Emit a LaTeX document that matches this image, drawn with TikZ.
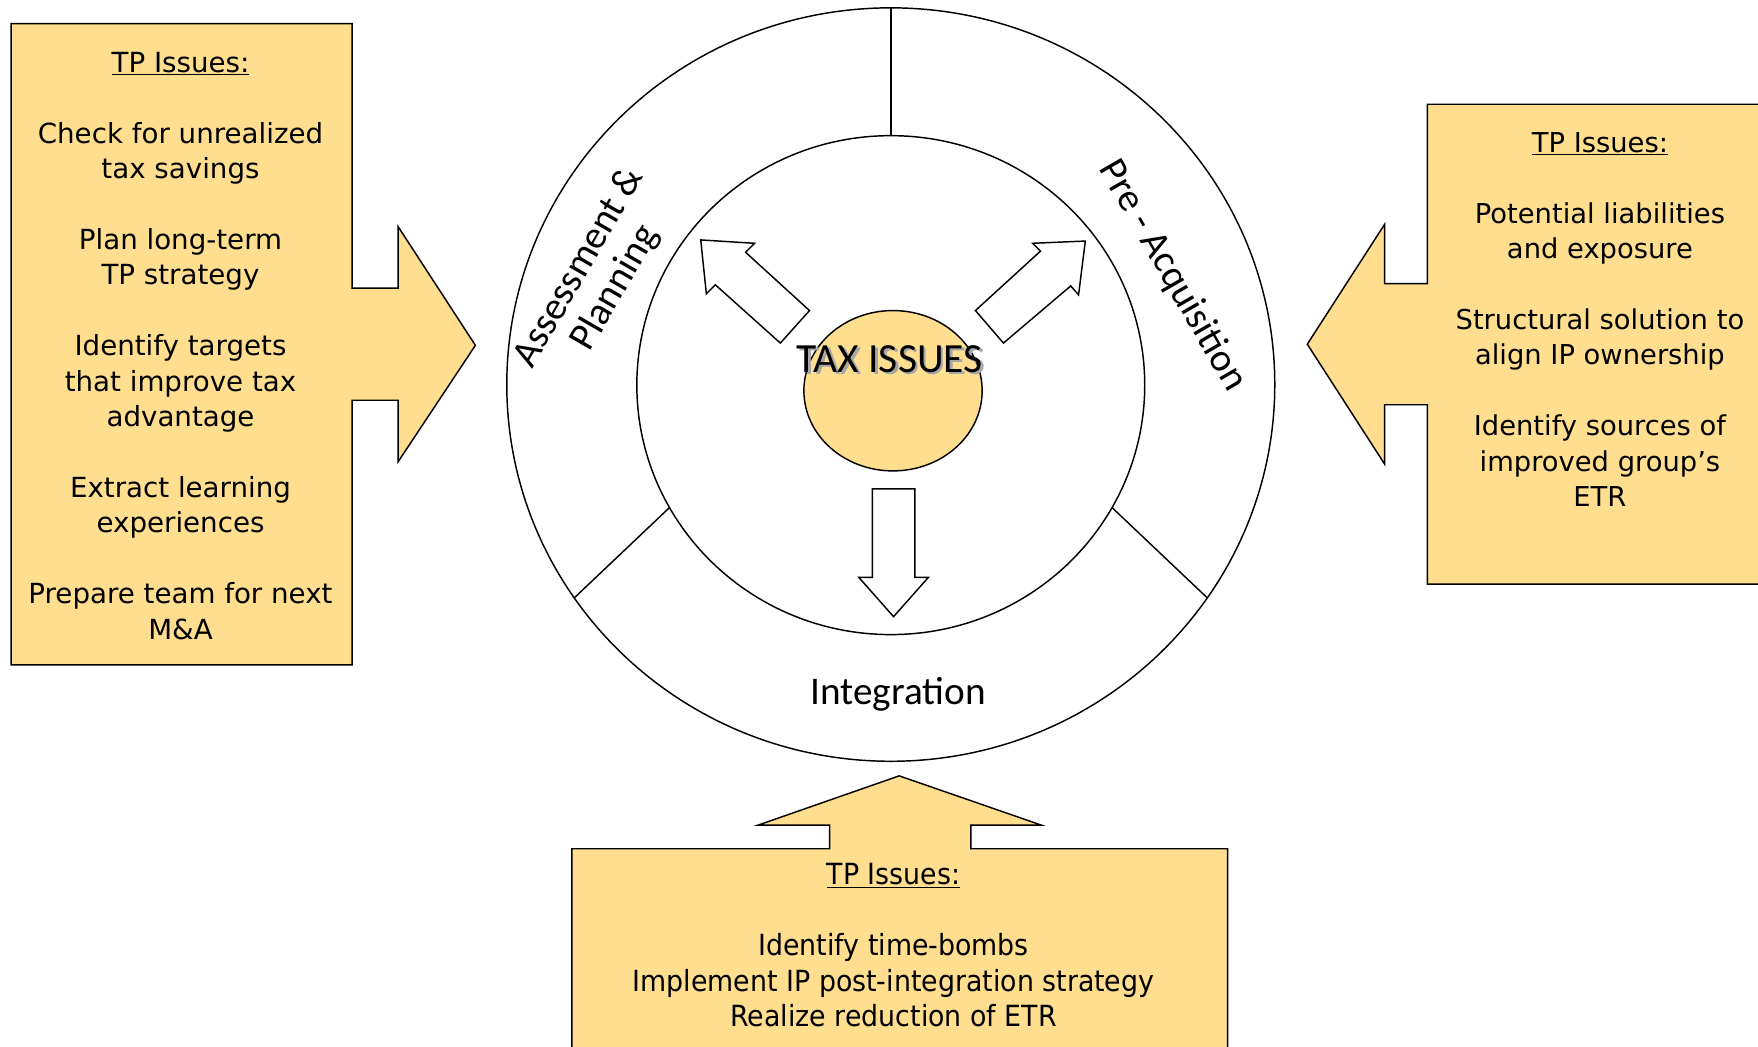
\documentclass[tikz,border=0pt]{standalone}
\usepackage{fontspec}
\usepackage{graphicx}
\usetikzlibrary{shapes.geometric}
\newfontfamily\boxfont{DejaVu Sans}
\newfontfamily\ringfont{Carlito}
\definecolor{tpyellow}{HTML}{FFDF8F}
\tikzset{
  yellowshape/.style={draw=black, fill=tpyellow, line width=1.3pt, line join=miter},
  hollowarrow/.style={draw=black, fill=white, line width=1.3pt, line join=miter},
  ringline/.style={draw=black, line width=1.3pt},
  boxtext/.style={inner sep=0pt, font=\boxfont\fontsize{24.7}{31.6}\selectfont},
  ringtext/.style={inner sep=0pt, font=\ringfont\fontsize{35}{37}\selectfont}
}
\begin{document}
\begin{tikzpicture}[x=1pt, y=-1pt]
\useasboundingbox (0,0) rectangle (1568,933);

% ---------- left box with right-pointing arrow ----------
\draw[yellowshape] (10,21) -- (314,21) -- (314,257) -- (355,257) -- (355,202)
  -- (424,308) -- (355,412) -- (355,357) -- (314,357) -- (314,593) -- (10,593) -- cycle;
\node[boxtext] (lefttext) at (161,311) {%
  \begin{tabular}{@{}c@{}}
  \underline{TP Issues:}\\ \\
  Check for unrealized\\ tax savings\\ \\
  Plan long-term\\ TP strategy\\ \\
  Identify targets\\ that improve tax\\ advantage\\ \\
  Extract learning\\ experiences\\ \\
  Prepare team for next\\ M\&A
  \end{tabular}};

% ---------- right box with left-pointing arrow ----------
\draw[yellowshape] (1580,93) -- (1273,93) -- (1273,253) -- (1235,253) -- (1235,200)
  -- (1166,307) -- (1235,414) -- (1235,361) -- (1273,361) -- (1273,521) -- (1580,521);
\node[boxtext, font=\boxfont\fontsize{24.4}{31.6}\selectfont] (righttext) at (1427,287.4) {%
  \begin{tabular}{@{}c@{}}
  \underline{TP Issues:}\\ \\
  Potential liabilities\\ and exposure\\ \\
  Structural solution to\\ align IP ownership\\ \\
  Identify sources of\\ improved group’s\\ ETR
  \end{tabular}};

% ---------- bottom box with up-pointing arrow ----------
\draw[yellowshape] (510,950) -- (510,757) -- (740,757) -- (740,736) -- (676,736)
  -- (802,692) -- (929,736) -- (866,736) -- (866,757) -- (1095,757) -- (1095,950);
\node[boxtext, font=\boxfont\fontsize{26}{31.7}\selectfont] (bottomtext) at (797,846.2) {%
  \scalebox{0.92}[1]{\begin{tabular}{@{}c@{}}
  \underline{TP Issues:}\\ \\
  Identify time-bombs\\
  Implement IP post-integration strategy\\
  Realize reduction of ETR
  \end{tabular}}};

% ---------- ring ----------
\node[ellipse, ringline, minimum width=685pt, minimum height=672pt, inner sep=0pt] (outer) at (794.5,343) {};
\node[ellipse, ringline, minimum width=453pt, minimum height=445pt, inner sep=0pt] (inner) at (794.5,343.5) {};
\draw[ringline] (outer.north) -- (inner.north);
\draw[ringline] (outer.-146) -- (inner.-151);
\draw[ringline] (outer.-34) -- (inner.-29);

% ---------- centre ----------
\node[ellipse, draw=black, fill=tpyellow, line width=1.3pt, minimum width=159pt, minimum height=143pt, inner sep=0pt] (core) at (796.5,348.5) {};
\node[inner sep=0pt, font=\ringfont\fontsize{37}{40}\selectfont, text=black!35] (taxshadow) at (795.8,322.3) {TAX ISSUES};
\node[inner sep=0pt, font=\ringfont\fontsize{37}{40}\selectfont] (tax) at (793.5,320) {TAX ISSUES};

% ---------- hollow arrows ----------
\draw[hollowarrow] (722,277) -- (665,225) -- (673,217) -- (625,214) -- (630,262) -- (638,254) -- (696,306) -- cycle;
\draw[hollowarrow] (870,277) -- (928,224) -- (921,217) -- (968,215) -- (962,263) -- (955,255) -- (895,306) -- cycle;
\draw[hollowarrow] (778,436) -- (816,436) -- (816,515) -- (828,515) -- (797,550) -- (766,515) -- (778,515) -- cycle;

% ---------- ring labels ----------
\node[ringtext, rotate=60, align=center] (assess) at (533,248) {Assessment \&\\Planning};
\node[ringtext, rotate=-60] (preacq) at (1045.8,246) {Pre - Acquisition};
\node[ringtext, anchor=base] (integ) at (801,628) {Integration};
\end{tikzpicture}
\end{document}
